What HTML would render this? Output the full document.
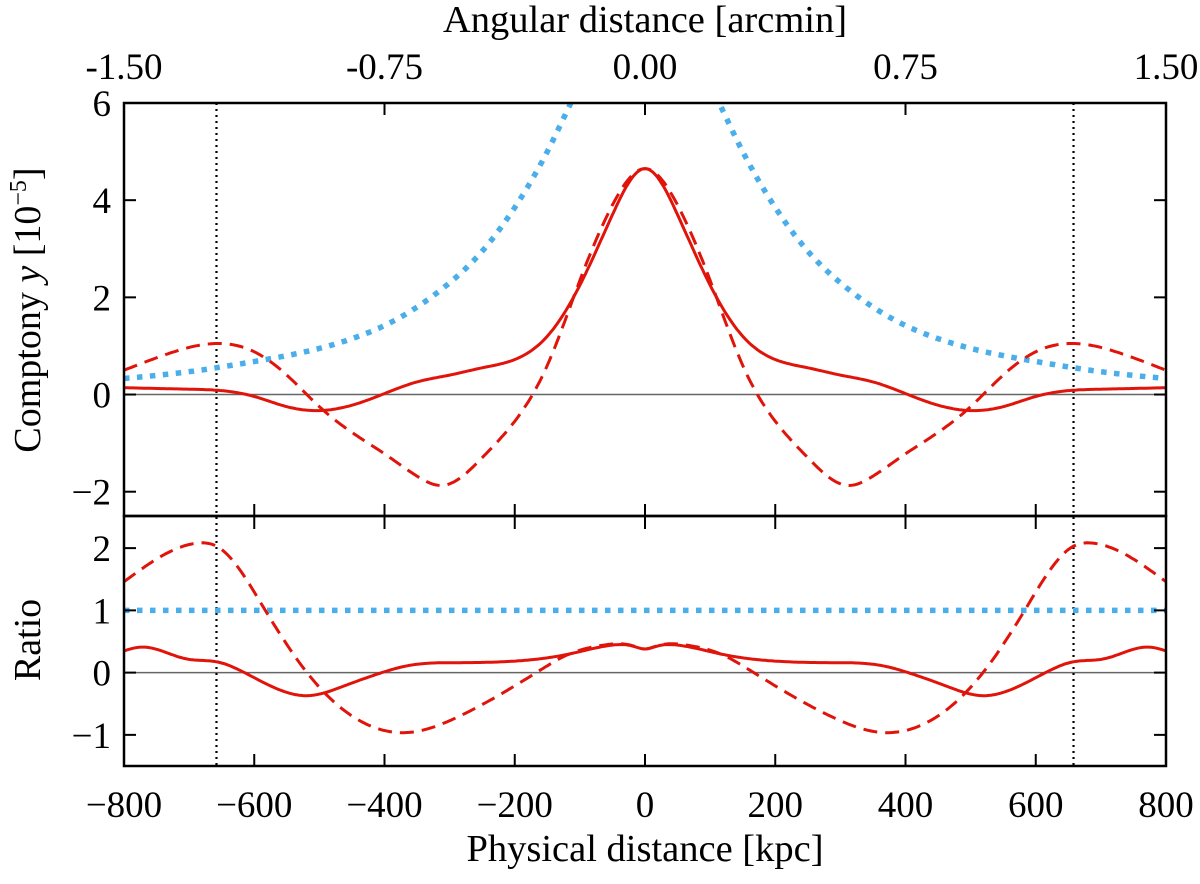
<!DOCTYPE html>
<html><head><meta charset="utf-8"><style>
html,body{margin:0;padding:0;background:#fff;}
svg text{font-family:"Liberation Serif",serif;fill:#000;}
</style></head><body>
<svg id="chart" width="1200" height="879" viewBox="0 0 1200 879" xmlns="http://www.w3.org/2000/svg">
<defs>
<clipPath id="clipTop"><rect x="124" y="103" width="1042" height="413"/></clipPath>
<clipPath id="clipBot"><rect x="124" y="517" width="1042" height="249"/></clipPath>
</defs>
<g id="layer"></g>
</svg>
<script>
// ---- data (half profiles, mirrored about 0) ----
const xHalf = [0, 50, 100, 150, 200, 250, 300, 350, 400, 450, 500, 550, 600, 650, 700, 800];
const topSolid = [4.65, 3.7, 2.25, 1.2, 0.72, 0.55, 0.4, 0.26, 0.02, -0.22, -0.33, -0.25, -0.04, 0.08, 0.11, 0.14];
const xDashHalf = [0, 50, 100, 150, 200, 250, 310, 350, 400, 450, 500, 550, 600, 660, 730, 800];
const topDashed = [4.65, 3.9, 2.35, 0.6, -0.55, -1.3, -1.87, -1.68, -1.22, -0.78, -0.25, 0.4, 0.88, 1.05, 0.85, 0.5];
const xBlueHalf = [100, 114, 150, 200, 250, 300, 350, 400, 450, 500, 600, 700, 800];
const topBlue = [6.4, 6.0, 5.0, 3.85, 2.95, 2.3, 1.8, 1.42, 1.15, 0.95, 0.68, 0.47, 0.33];
const xRatHalf = [0, 20, 52, 116, 193, 289, 365, 404, 461, 519, 615, 656, 704, 774, 800];
const ratSolid = [0.38, 0.43, 0.44, 0.3, 0.19, 0.16, 0.11, 0.0, -0.21, -0.37, 0.0, 0.17, 0.22, 0.41, 0.35];
const xRatDashHalf = [0, 15, 33, 65, 116, 167, 289, 362, 455, 519, 583, 656, 688, 800];
const ratDashed = [0.38, 0.42, 0.46, 0.44, 0.3, 0.0, -0.72, -0.96, -0.66, 0.0, 1.0, 2.02, 2.08, 1.46];
const xBlueRat = [-800, 800];
const ratBlue = [1, 1];
const xTicks = [-800, -600, -400, -200, 0, 200, 400, 600, 800];
const xTickLabels = ["\u2212800", "\u2212600", "\u2212400", "\u2212200", "0", "200", "400", "600", "800"];
const angTicks = [-1.5, -0.75, 0, 0.75, 1.5];
const angLabels = ["-1.50", "-0.75", "0.00", "0.75", "1.50"];
const yTopTicks = [-2, 0, 2, 4, 6];
const yTopLabels = ["\u22122", "0", "2", "4", "6"];
const yBotTicks = [-1, 0, 1, 2];
const yBotLabels = ["\u22121", "0", "1", "2"];
const vLines = [-658, 658];

// ---- scales ----
const L = 124, R = 1166;
const X = v => L + (v + 800) / 1600 * (R - L);
const A = v => L + (v + 1.5) / 3 * (R - L);
const TT = 103, TB = 516;
const YT = v => TB - (v + 2.5) / 8.5 * (TB - TT);
const BT = 517, BB = 766;
const YB = v => BB - (v + 1.5) / 4 * (BB - BT);

const NS = "http://www.w3.org/2000/svg";
const layer = document.getElementById('layer');
function mk(tag, attrs, parent) {
  const e = document.createElementNS(NS, tag);
  for (const k in attrs) e.setAttribute(k, attrs[k]);
  (parent || layer).appendChild(e);
  return e;
}
function sym(xs, ys) {
  const px = [], py = [];
  for (let i = xs.length - 1; i >= 0; i--) { if (xs[i] !== 0) { px.push(-xs[i]); py.push(ys[i]); } }
  for (let i = 0; i < xs.length; i++) { px.push(xs[i]); py.push(ys[i]); }
  return [px, py];
}
// natural cubic spline sampled densely
function spline(xs, ys, fx, fy) {
  const n = xs.length;
  if (n < 3) return "M" + fx(xs[0]) + "," + fy(ys[0]) + "L" + fx(xs[n-1]) + "," + fy(ys[n-1]);
  const h = [], al = [], l = [1], mu = [0], zz = [0], c = new Array(n).fill(0), b = [], d = [];
  for (let i = 0; i < n - 1; i++) h.push(xs[i+1] - xs[i]);
  for (let i = 1; i < n - 1; i++) al[i] = 3 / h[i] * (ys[i+1] - ys[i]) - 3 / h[i-1] * (ys[i] - ys[i-1]);
  for (let i = 1; i < n - 1; i++) {
    l[i] = 2 * (xs[i+1] - xs[i-1]) - h[i-1] * mu[i-1];
    mu[i] = h[i] / l[i];
    zz[i] = (al[i] - h[i-1] * zz[i-1]) / l[i];
  }
  for (let j = n - 2; j >= 0; j--) {
    c[j] = (j >= 1 ? zz[j] : 0) - mu[j] * c[j+1];
    if (j === 0) c[0] = 0;
    b[j] = (ys[j+1] - ys[j]) / h[j] - h[j] * (c[j+1] + 2 * c[j]) / 3;
    d[j] = (c[j+1] - c[j]) / (3 * h[j]);
  }
  let path = "";
  for (let j = 0; j < n - 1; j++) {
    const steps = Math.max(2, Math.ceil(h[j] / 3));
    for (let k = (j === 0 ? 0 : 1); k <= steps; k++) {
      const t = h[j] * k / steps;
      const v = ys[j] + b[j] * t + c[j] * t * t + d[j] * t * t * t;
      path += (path ? "L" : "M") + fx(xs[j] + t).toFixed(1) + "," + fy(v).toFixed(1);
    }
  }
  return path;
}
const BLUE = '#4aaeea', RED = '#e0140a';

let z = mk('line', {x1: L, x2: R, y1: YT(0), y2: YT(0), stroke: '#666', 'stroke-width': 1.5});
 
z = mk('line', {x1: L, x2: R, y1: YB(0), y2: YB(0), stroke: '#666', 'stroke-width': 1.5});
 

vLines.forEach(v => {
  const l = mk('line', {x1: X(v), x2: X(v), y1: TT, y2: BB, stroke: '#000', 'stroke-width': 2.2, 'stroke-dasharray': '2,4'});
  
  
});

const gT = mk('g', {'clip-path': 'url(#clipTop)'});
let s = sym(xBlueHalf, topBlue);
const nB = xBlueHalf.length;
let e = mk('path', {d: spline(s[0].slice(0, nB), s[1].slice(0, nB), X, YT), fill: 'none', stroke: BLUE, 'stroke-width': 5.5, 'stroke-dasharray': '5.5,7.5'}, gT);
 
e = mk('path', {d: spline(s[0].slice(nB), s[1].slice(nB), X, YT), fill: 'none', stroke: BLUE, 'stroke-width': 5.5, 'stroke-dasharray': '5.5,7.5'}, gT);
 
s = sym(xDashHalf, topDashed);
e = mk('path', {d: spline(s[0], s[1], X, YT), fill: 'none', stroke: RED, 'stroke-width': 3, 'stroke-dasharray': '14,8'}, gT);
 
s = sym(xHalf, topSolid);
e = mk('path', {d: spline(s[0], s[1], X, YT), fill: 'none', stroke: RED, 'stroke-width': 3}, gT);
 

const gB = mk('g', {'clip-path': 'url(#clipBot)'});
e = mk('path', {d: spline(xBlueRat, ratBlue, X, YB), fill: 'none', stroke: BLUE, 'stroke-width': 5.5, 'stroke-dasharray': '5.5,7.5'}, gB);
 
s = sym(xRatDashHalf, ratDashed);
e = mk('path', {d: spline(s[0], s[1], X, YB), fill: 'none', stroke: RED, 'stroke-width': 3, 'stroke-dasharray': '14,8'}, gB);
 
s = sym(xRatHalf, ratSolid);
e = mk('path', {d: spline(s[0], s[1], X, YB), fill: 'none', stroke: RED, 'stroke-width': 3}, gB);
 

e = mk('rect', {x: L, y: TT, width: R - L, height: TB - TT, fill: 'none', stroke: '#000', 'stroke-width': 2.5});
 
e = mk('rect', {x: L, y: TB, width: R - L, height: BB - TB, fill: 'none', stroke: '#000', 'stroke-width': 2.5});
 

const tk = 12, FS = 37;
xTicks.forEach((v, i) => {
  const x = X(v);
  mk('line', {x1: x, x2: x, y1: BB, y2: BB - tk, stroke: '#000', 'stroke-width': 2});
  mk('line', {x1: x, x2: x, y1: BT, y2: BT + tk, stroke: '#000', 'stroke-width': 2});
  mk('line', {x1: x, x2: x, y1: TB, y2: TB - tk, stroke: '#000', 'stroke-width': 2});
  const t = mk('text', {x: x, y: 817, 'font-size': FS, 'text-anchor': 'middle'});
  t.textContent = xTickLabels[i];
   
});
angTicks.forEach((v, i) => {
  const x = A(v);
  mk('line', {x1: x, x2: x, y1: TT, y2: TT + tk, stroke: '#000', 'stroke-width': 2});
  const t = mk('text', {x: x, y: 79, 'font-size': FS, 'text-anchor': 'middle'});
  t.textContent = angLabels[i];
   
});
yTopTicks.forEach((v, i) => {
  const y = YT(v);
  mk('line', {x1: L, x2: L + tk, y1: y, y2: y, stroke: '#000', 'stroke-width': 2});
  mk('line', {x1: R, x2: R - tk, y1: y, y2: y, stroke: '#000', 'stroke-width': 2});
  const t = mk('text', {x: L - 13, y: y + 13, 'font-size': FS, 'text-anchor': 'end'});
  t.textContent = yTopLabels[i];
   
});
yBotTicks.forEach((v, i) => {
  const y = YB(v);
  mk('line', {x1: L, x2: L + tk, y1: y, y2: y, stroke: '#000', 'stroke-width': 2});
  mk('line', {x1: R, x2: R - tk, y1: y, y2: y, stroke: '#000', 'stroke-width': 2});
  const t = mk('text', {x: L - 13, y: y + 13, 'font-size': FS, 'text-anchor': 'end'});
  t.textContent = yBotLabels[i];
   
});

let t = mk('text', {x: 645, y: 32, 'font-size': 38.5, 'text-anchor': 'middle'});
t.textContent = 'Angular distance [arcmin]';
 
t = mk('text', {x: 645, y: 861, 'font-size': 38.5, 'text-anchor': 'middle'});
t.textContent = 'Physical distance [kpc]';
 
t = mk('text', {x: 0, y: 0, 'font-size': 38, 'text-anchor': 'middle', transform: 'translate(40,310) rotate(-90)'});
t.innerHTML = 'Comptony <tspan font-style="italic">y</tspan> [10<tspan font-size="24" dy="-14">\u22125</tspan><tspan dy="14">]</tspan>';
 
t = mk('text', {x: 0, y: 0, 'font-size': 38, 'text-anchor': 'middle', transform: 'translate(40,640) rotate(-90)'});
t.textContent = 'Ratio';
 
</script>
</body></html>
